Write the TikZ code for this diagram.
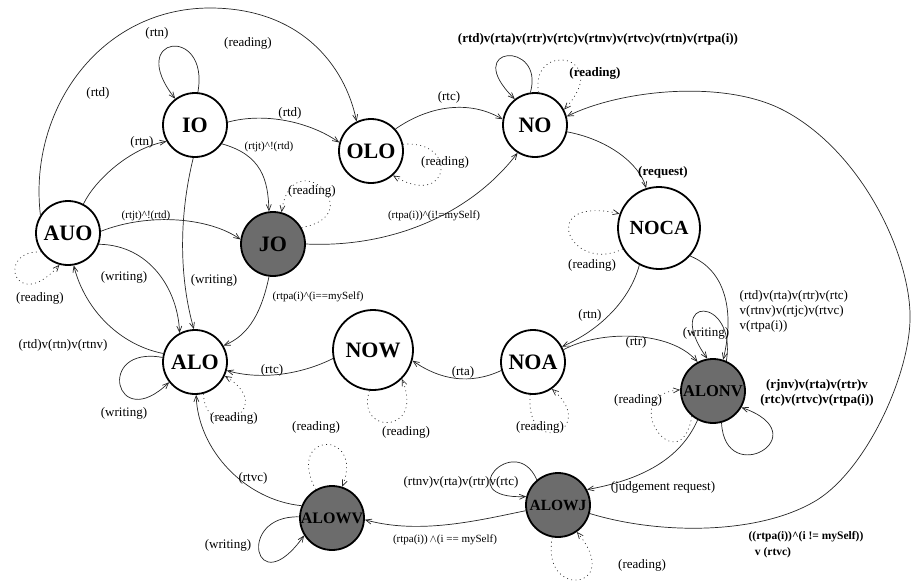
\documentclass[tikz,border=0pt]{standalone}
\usepackage{fontspec}
\setmainfont{Liberation Serif}
\usetikzlibrary{arrows.meta}
\definecolor{stategray}{RGB}{108,108,108}
\begin{document}
\begin{tikzpicture}[x=1pt,y=-1pt,
  state/.style={circle, draw, line width=1.8pt, minimum size=64pt, inner sep=0pt,
    font=\fontsize{22}{22}\selectfont\bfseries},
  busy/.style={state, fill=stategray},
  lbl/.style={inner sep=0.5pt, font=\fontsize{13}{15}\selectfont},
  slbl/.style={inner sep=0.5pt, font=\fontsize{11}{13}\selectfont},
  blbl/.style={inner sep=0.5pt, font=\fontsize{13}{15}\selectfont\bfseries},
  edge/.style={draw=black!85, line width=0.7pt, -{Straight Barb[length=6pt,width=5pt]}},
  rd/.style={edge, dash pattern=on 0.9pt off 3.4pt},
]
\useasboundingbox (0,0) rectangle (913,587);

% states
\node[state] (IO)  at (195,125) {IO};
\node[state] (OLO) at (371,151) {OLO};
\node[state] (NO)  at (535,125) {NO};
\node[state] (AUO) at (68,233)  {AUO};
\node[busy]  (JO)  at (273,244) {JO};
\node[state] (ALO) at (195,362) {ALO};
\node[state, minimum size=82pt, font=\fontsize{20}{20}\selectfont\bfseries] (NOCA) at (659,228) {NOCA};
\node[state, minimum size=80pt] (NOW) at (373,350) {NOW};
\node[state] (NOA) at (533,362) {NOA};
\node[busy, font=\fontsize{16.5}{16.5}\selectfont\bfseries] (ALONV) at (713,391) {ALONV};
\node[busy, font=\fontsize{15.5}{15.5}\selectfont\bfseries] (ALOWJ) at (558,505) {ALOWJ};
\node[busy, font=\fontsize{16}{16}\selectfont\bfseries] (ALOWV) at (332,518) {ALOWV};

% points on the long arcs
\coordinate (apex) at (210,8);
\coordinate (r1) at (817,500);
\coordinate (r2) at (910,313);
\coordinate (r3) at (783,110);

% IO
\draw[edge] (IO.85) .. controls (210,25) and (125,35) .. (IO.127);
\draw[edge] (AUO.147) .. controls (28,110) and (100,8) .. (apex)
            .. controls (300,8) and (345,65) .. (OLO.116);
\draw[edge] (IO.5) .. controls (265,112) and (310,122) .. (OLO.165);
\draw[edge] (IO.-35) .. controls (262,155) and (268,180) .. (JO.97);
\draw[edge] (IO.-93) .. controls (178,220) and (180,280) .. (ALO.92);

% AUO
\draw[edge] (AUO.62) .. controls (95,180) and (130,148) .. (IO.210);
\draw[edge] (AUO.3) .. controls (150,212) and (210,218) .. (JO.172);
\draw[rd] (AUO.215) .. controls (-5,250) and (15,315) .. (AUO.255);
\draw[edge] (AUO.-20) .. controls (150,245) and (178,290) .. (ALO.118);

% JO
\draw[rd] (JO.30) .. controls (372,215) and (292,140) .. (JO.75);
\draw[edge] (JO.-97) .. controls (262,310) and (250,335) .. (ALO.30);
\draw[edge] (JO.0) .. controls (390,248) and (470,215) .. (NO.-122);

% ALO
\draw[edge] (ALO.165) .. controls (120,345) and (85,310) .. (AUO.-80);
\draw[edge] (ALO.172) .. controls (95,345) and (115,435) .. (ALO.218);
\draw[rd] (ALO.-75) .. controls (205,445) and (280,410) .. (ALO.-25);

% OLO
\draw[edge] (OLO.42) .. controls (430,105) and (470,100) .. (NO.170);
\draw[rd] (OLO.12) .. controls (460,140) and (450,210) .. (OLO.-48);

% NO
\draw[edge] (NO.98) .. controls (545,40) and (460,45) .. (NO.128);
\draw[rd] (NO.84) .. controls (530,40) and (615,55) .. (NO.28);
\draw[edge] (NO.-12) .. controls (610,140) and (640,165) .. (NOCA.108);
\draw[edge] (ALOWJ.-15) .. controls (660,535) and (760,535) .. (r1)
            .. controls (868,468) and (912,370) .. (r2)
            .. controls (908,250) and (860,150) .. (r3)
            .. controls (723,79) and (620,90) .. (NO.15);

% NOCA
\draw[rd] (NOCA.210) .. controls (570,275) and (535,195) .. (NOCA.160);
\draw[edge] (NOCA.-118) .. controls (630,300) and (600,330) .. (NOA.28);
\draw[edge] (NOCA.-42) .. controls (725,270) and (735,310) .. (ALONV.72);

% NOA, NOW
\draw[edge] (NOA.22) .. controls (600,330) and (670,330) .. (ALONV.118);
\draw[edge] (NOA.195) .. controls (470,385) and (440,380) .. (NOW.-15);
\draw[rd] (NOA.-95) .. controls (525,460) and (600,430) .. (NOA.-55);
\draw[edge] (NOW.192) .. controls (300,375) and (260,380) .. (ALO.-15);
\draw[rd] (NOW.-95) .. controls (355,435) and (425,435) .. (NOW.-45);

% ALONV
\draw[edge] (ALONV.66) .. controls (737,295) and (662,295) .. (ALONV.100);
\draw[edge] (ALONV.-75) .. controls (725,490) and (820,435) .. (ALONV.-30);
\draw[rd] (ALONV.-130) .. controls (680,485) and (615,395) .. (ALONV.178);
\draw[edge] (ALONV.-118) .. controls (680,460) and (640,480) .. (ALOWJ.28);

% ALOWJ
\draw[edge] (ALOWJ.130) .. controls (515,430) and (450,500) .. (ALOWJ.165);
\draw[rd] (ALOWJ.-100) .. controls (540,600) and (625,590) .. (ALOWJ.-55);
\draw[edge] (ALOWJ.190) .. controls (480,520) and (420,535) .. (ALOWV.-3);

% ALOWV
\draw[edge] (ALOWV.158) .. controls (245,500) and (198,450) .. (ALO.-88);
\draw[rd] (ALOWV.120) .. controls (285,430) and (365,430) .. (ALOWV.72);
\draw[edge] (ALOWV.178) .. controls (235,515) and (255,605) .. (ALOWV.-148);

% labels
\node[lbl] (t1)  at (157,33)  {(rtn)};
\node[lbl] (t2)  at (248,43)  {(reading)};
\node[lbl] (t3)  at (98,93)   {(rtd)};
\node[lbl] (t4)  at (290,113) {(rtd)};
\node[lbl] (t5)  at (142,142) {(rtn)};
\node[slbl] (t6) at (269,147) {(rtjt)\textasciicircum!(rtd)};
\node[slbl] (t7) at (146,216) {(rtjt)\textasciicircum!(rtd)};
\node[lbl] (t8)  at (312,191) {(reading)};
\node[lbl] (t9)  at (40,298)  {(reading)};
\node[lbl] (t10) at (124,277) {(writing)};
\node[lbl] (t11) at (214,280) {(writing)};
\node[lbl] (t12) at (63,345)  {(rtd)v(rtn)v(rtnv)};
\node[lbl] (t13) at (124,413) {(writing)};
\node[lbl] (t14) at (234,418) {(reading)};
\node[slbl, anchor=west] (t15) at (272,297) {(rtpa(i)\textasciicircum(i==mySelf)};
\node[slbl] (t16) at (434,216) {(rtpa(i))\textasciicircum(i!=mySelf)};
\node[lbl] (t17) at (449,97)  {(rtc)};
\node[lbl] (t18) at (445,162) {(reading)};
\node[blbl] (t19) at (598,39) {(rtd)v(rta)v(rtr)v(rtc)v(rtnv)v(rtvc)v(rtn)v(rtpa(i))};
\node[blbl] (t20) at (595,73) {(reading)};
\node[blbl] (t21) at (663,172) {(request)};
\node[lbl] (t22) at (592,265) {(reading)};
\node[lbl] (t23) at (590,315) {(rtn)};
\node[lbl, anchor=north west, align=left] (t24) at (739,290)
  {(rtd)v(rta)v(rtr)v(rtc)\\v(rtnv)v(rtjc)v(rtvc)\\v(rtpa(i))};
\node[lbl] (t25) at (706,333) {(writing)};
\node[lbl] (t26) at (636,342) {(rtr)};
\node[blbl, align=center] (t27) at (817,393) {(rjnv)v(rta)v(rtr)v\\(rtc)v(rtvc)v(rtpa(i))};
\node[lbl] (t28) at (638,400) {(reading)};
\node[lbl] (t29) at (663,487) {(judgement request)};
\node[lbl] (t30) at (463,372) {(rta)};
\node[lbl] (t31) at (272,370) {(rtc)};
\node[lbl] (t32) at (406,432) {(reading)};
\node[lbl] (t33) at (540,427) {(reading)};
\node[lbl] (t34) at (461,482) {(rtnv)v(rta)v(rtr)v(rtc)};
\node[lbl] (t35) at (642,565) {(reading)};
\node[slbl, font=\fontsize{11.5}{13}\selectfont\bfseries] (t36) at (806,537) {((rtpa(i))\textasciicircum(i != mySelf))};
\node[slbl, font=\fontsize{11.5}{13}\selectfont\bfseries] (t37) at (773,553) {v (rtvc)};
\node[slbl] (t38) at (445,540) {(rtpa(i))\,$\wedge$(i == mySelf)};
\node[lbl] (t39) at (253,478) {(rtvc)};
\node[lbl] (t40) at (316,427) {(reading)};
\node[lbl] (t41) at (228,545) {(writing)};
\end{tikzpicture}
\end{document}
